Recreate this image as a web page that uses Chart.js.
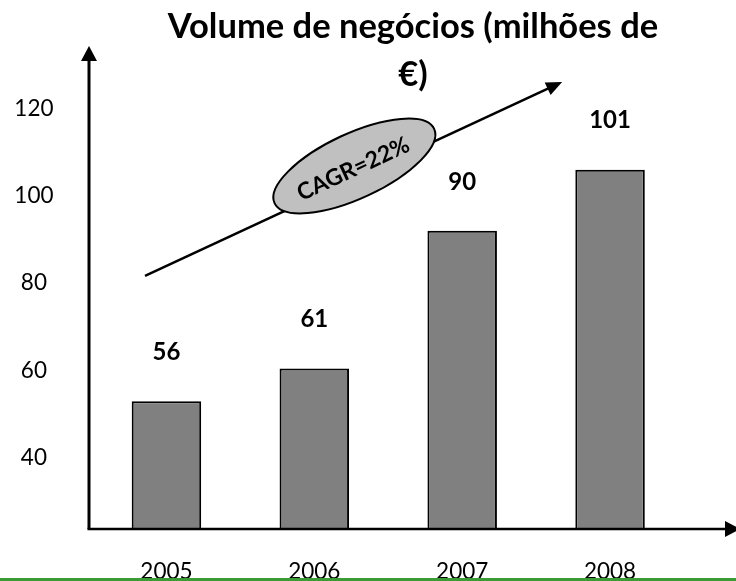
<!DOCTYPE html>
<html>
<head>
<meta charset="utf-8">
<script src="https://cdn.jsdelivr.net/npm/chart.js@4/dist/chart.umd.min.js"></script>
<style>
  html, body { margin: 0; padding: 0; background: #fff; }
  #wrap { width: 736px; height: 581px; position: relative; }
</style>
</head>
<body>
<div id="wrap"><canvas id="grafico"></canvas></div>
<script>
// dados
const anos = ["2005", "2006", "2007", "2008"];
const volume = [53, 60.5, 92, 106];
const rotulos = ["56", "61", "90", "101"];
const ticksY = [40, 60, 80, 100, 120];
const titulo = ["Volume de negócios (milhões de", "€)"];
const cagr = "CAGR=22%";

const FONTE = "Lato, 'Open Sans', sans-serif";

// seta com ponta triangular
function seta(ctx, x1, y1, x2, y2, cab, larg, lw) {
  const ang = Math.atan2(y2 - y1, x2 - x1);
  ctx.save();
  ctx.strokeStyle = "#000";
  ctx.fillStyle = "#000";
  ctx.lineWidth = lw;
  ctx.beginPath();
  ctx.moveTo(x1, y1);
  ctx.lineTo(x2 - Math.cos(ang) * cab * 0.8, y2 - Math.sin(ang) * cab * 0.8);
  ctx.stroke();
  ctx.translate(x2, y2);
  ctx.rotate(ang);
  ctx.beginPath();
  ctx.moveTo(0, 0);
  ctx.lineTo(-cab, -larg / 2);
  ctx.lineTo(-cab, larg / 2);
  ctx.closePath();
  ctx.fill();
  ctx.restore();
}

const desenhos = {
  id: "desenhos",
  afterDatasetsDraw(chart) {
    const ctx = chart.ctx;
    const meta = chart.getDatasetMeta(0);
    // risco branco na primeira barra
    const b0 = meta.data[0];
    ctx.save();
    ctx.strokeStyle = "#fff";
    ctx.lineWidth = 1.5;
    ctx.beginPath();
    ctx.moveTo(b0.x - b0.width / 2 + 2, b0.base - 12);
    ctx.lineTo(b0.x + b0.width / 2 - 2, b0.base - 12);
    ctx.stroke();

    // rótulos por cima das barras
    ctx.fillStyle = "#000";
    ctx.font = "bold 24px " + FONTE;
    ctx.textAlign = "center";
    ctx.textBaseline = "middle";
    meta.data.forEach((bar, i) => {
      ctx.fillText(rotulos[i], bar.x, bar.y - 49);
    });
    ctx.restore();
  },
  afterDraw(chart) {
    const ctx = chart.ctx;
    const a = chart.chartArea;
    const w = a.right - a.left, h = a.bottom - a.top;
    const px = f => a.left + f * w;
    const py = f => a.top + f * h;

    // eixos com setas
    const x0 = a.left - 3.5;
    seta(ctx, x0, a.bottom, x0, a.top, 15, 16, 3);
    seta(ctx, x0 - 1.5, a.bottom, chart.width + 4, a.bottom, 15, 16, 2.5);

    // seta CAGR
    const sx = px(0.0888), sy = py(0.476), ex = px(0.794), ey = py(0.0745);
    seta(ctx, sx, sy, ex, ey, 16, 14, 2.5);
    const ang = Math.atan2(ey - sy, ex - sx);

    // elipse
    const cx = px(0.4427), cy = py(0.2484);
    ctx.save();
    ctx.beginPath();
    ctx.ellipse(cx, cy, 88, 32.5, ang, 0, Math.PI * 2);
    ctx.fillStyle = "#c0c0c0";
    ctx.fill();
    ctx.lineWidth = 2;
    ctx.strokeStyle = "#000";
    ctx.stroke();
    ctx.translate(cx - 1, cy + 3);
    ctx.rotate(ang);
    ctx.fillStyle = "#000";
    ctx.font = "bold 23px " + FONTE;
    ctx.textAlign = "center";
    ctx.textBaseline = "middle";
    ctx.fillText(cagr, 0, 0);
    ctx.restore();

    // título
    ctx.save();
    ctx.fillStyle = "#000";
    ctx.textAlign = "center";
    ctx.textBaseline = "middle";
    let tam = 30;
    ctx.font = "bold " + tam + "px " + FONTE;
    tam = tam * 490 / ctx.measureText(titulo[0]).width;
    ctx.font = "bold " + tam.toFixed(1) + "px " + FONTE;
    ctx.fillText(titulo[0], 413, 27);
    ctx.fillText(titulo[1], 413, 75);
    ctx.restore();

    // faixa verde em baixo
    ctx.save();
    ctx.fillStyle = "#3d9b35";
    ctx.fillRect(0, chart.height - 3, chart.width, 3);
    ctx.restore();
  }
};

new Chart(document.getElementById("grafico"), {
  type: "bar",
  data: {
    labels: anos,
    datasets: [{
      data: volume,
      backgroundColor: "#808080",
      borderColor: "#000",
      borderWidth: 2,
      categoryPercentage: 0.5,
      barPercentage: 0.94
    }]
  },
  options: {
    responsive: true,
    maintainAspectRatio: false,
    animation: false,
    layout: { padding: { top: 46, right: 52, bottom: 0, left: 0 } },
    plugins: {
      legend: { display: false },
      title: { display: false },
      tooltip: { enabled: false }
    },
    scales: {
      x: {
        grid: { display: false, drawTicks: false },
        border: { display: false },
        afterFit: s => { s.height = 52; s.paddingLeft = 0; s.paddingRight = 0; },
        ticks: { color: "#000", font: { family: FONTE, size: 22.5 }, padding: 29.5 }
      },
      y: {
        min: 23.75,
        max: 134.3,
        grid: { display: false, drawTicks: false },
        border: { display: false },
        afterBuildTicks: s => { s.ticks = ticksY.map(v => ({ value: v })); },
        afterFit: s => { s.width = 92.5; s.paddingTop = 0; s.paddingBottom = 0; },
        ticks: {
          color: "#000",
          font: { family: FONTE, size: 22.5 },
          crossAlign: "center",
          padding: 39
        }
      }
    }
  },
  plugins: [desenhos]
});
</script>
</body>
</html>
